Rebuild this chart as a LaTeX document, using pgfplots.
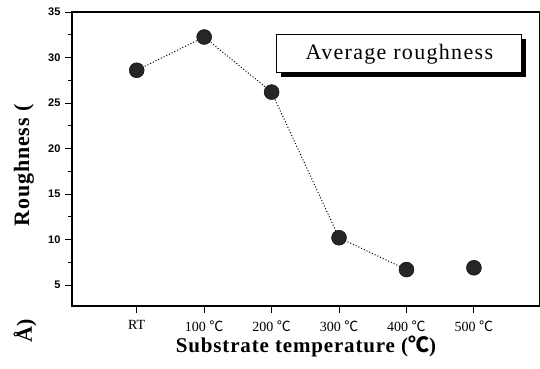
\documentclass[border=0pt]{standalone}
\usepackage{fontspec}
\setmainfont{Liberation Serif}
\newfontfamily\arialfont{Liberation Sans}
\newfontfamily\cjk{Noto Sans CJK SC}
\usepackage{pgfplots}
\pgfplotsset{compat=1.18}
\usetikzlibrary{shadows}
\newcommand{\degC}{{\cjk ℃}}
\begin{document}
\begin{tikzpicture}
\path[use as bounding box] (-72bp,-63bp) rectangle (468bp,306bp);
\begin{axis}[
  at={(0,0)}, anchor=south west,
  scale only axis, width=468bp, height=294bp,
  xmin=-0.96, xmax=5.98, ymin=2.7, ymax=35,
  xtick={0,1,2,3,4,5},
  xticklabels={RT,100 \degC,200 \degC,300 \degC,400 \degC,500 \degC},
  ytick={5,10,15,20,25,30,35},
  minor ytick={2.5,7.5,12.5,17.5,22.5,27.5,32.5},
  tick align=outside,
  xtick pos=bottom, ytick pos=left,
  major tick length=7bp, minor tick length=4bp,
  every tick/.style={black, line width=0.9bp},
  axis line style={line width=1.1bp},
  /pgf/number format/assume math mode=true,
  yticklabel style={font=\arialfont\bfseries\fontsize{11bp}{13bp}\selectfont, xshift=-1bp},
  xticklabel style={font=\fontsize{14bp}{16bp}\selectfont, yshift=-4bp},
  xlabel={\addfontfeature{LetterSpace=4}Substrate temperature (\degC)},
  xlabel style={font=\bfseries\fontsize{21bp}{24bp}\selectfont, yshift=2bp},
  ylabel={\addfontfeature{LetterSpace=4}Roughness (},
  ylabel style={font=\bfseries\fontsize{22bp}{24bp}\selectfont, at={(axis description cs:-0.1026,0.478)}, anchor=center},
  clip=false,
]
\addplot[black, dotted, line width=1bp] coordinates {(0,28.6) (1,32.25) (2,26.2) (3,10.2) (4,6.7)};
\addplot[only marks, mark=*, mark size=7.5bp, mark options={fill=black!85, draw=black}] coordinates {(0,28.6) (1,32.25) (2,26.2) (3,10.2) (4,6.7) (5,6.9)};
\node[draw=black, line width=1bp, fill=white, minimum width=245bp, minimum height=38bp,
  drop shadow={shadow xshift=4bp, shadow yshift=-4bp, fill=black, opacity=1},
  font=\fontsize{22bp}{24bp}\selectfont\addfontfeature{LetterSpace=6}] at (axis cs:3.895,30.4) {Average roughness};
\node[rotate=90, anchor=center, font=\bfseries\fontsize{22bp}{24bp}\selectfont] at (axis description cs:-0.1,-0.085) {Å)};
\end{axis}
\end{tikzpicture}
\end{document}
